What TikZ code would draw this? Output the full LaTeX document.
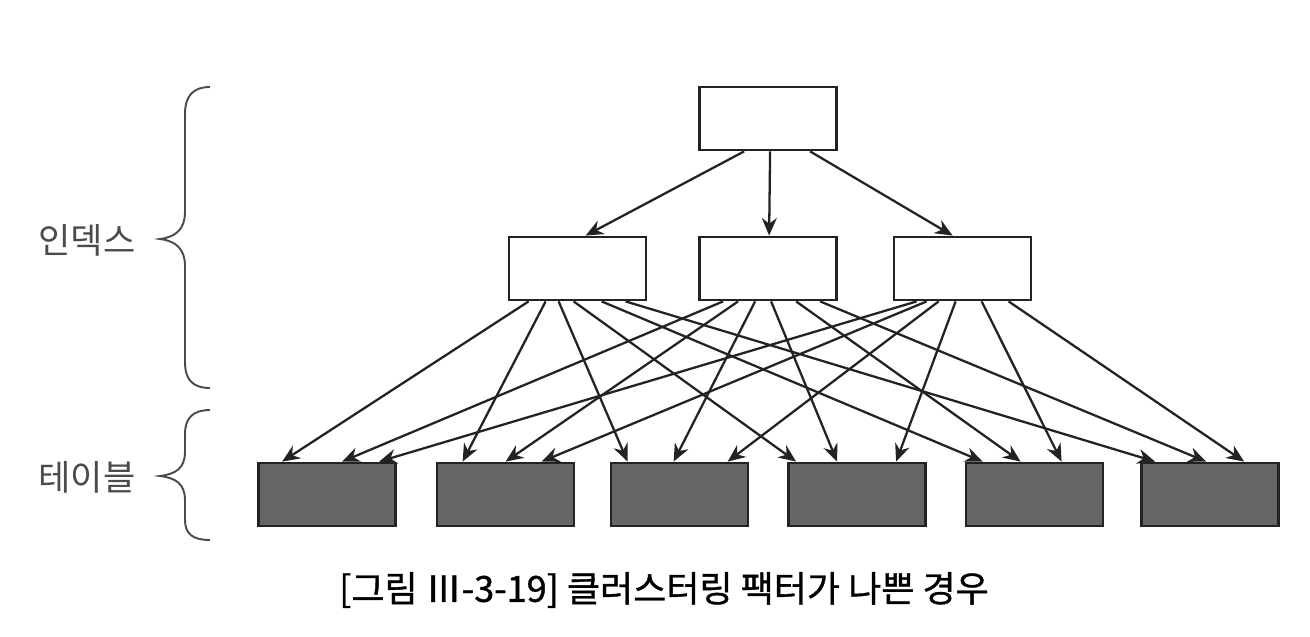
\documentclass[tikz,border=0pt]{standalone}
\usepackage{fontspec}
\newfontfamily\krfont{Noto Sans CJK KR}
\newfontfamily\krcapfont{Noto Sans CJK KR}[FakeBold=1]
\usetikzlibrary{arrows.meta,calc}
\definecolor{tablegray}{RGB}{102,102,102}
\definecolor{linegray}{RGB}{35,35,35}
\definecolor{labelgray}{RGB}{75,75,75}

\begin{document}
\begin{tikzpicture}
        [x=0.02cm,y=-0.02cm,
         every node/.style={rectangle,draw=linegray,line width=1.6pt,minimum width=2.74cm,minimum height=1.26cm,inner sep=0pt},
         idxbox/.style={fill=white},
         tblbox/.style={fill=tablegray},
         arr/.style={-{Stealth[length=10pt,width=8.5pt]},line width=1.3pt,draw=linegray},
         brc/.style={line width=1.1pt,draw=labelgray},
         lbl/.style={draw=none,minimum width=0pt,minimum height=0pt,font=\krfont\fontsize{20}{21}\selectfont,text=labelgray}]
        \useasboundingbox (0,0) rectangle (1310,636);
        %Index
        \node[idxbox] (R)  at (768,118.5)   {};
        \node[idxbox] (I1) at (577.5,268.5) {};
        \node[idxbox] (I2) at (768,268.5)   {};
        \node[idxbox] (I3) at (962.5,268.5) {};
        %Table
        \node[tblbox] (T1) at (327,494.5)    {};
        \node[tblbox] (T2) at (505.5,494.5)  {};
        \node[tblbox] (T3) at (679.5,494.5)  {};
        \node[tblbox] (T4) at (857,494.5)    {};
        \node[tblbox] (T5) at (1034.5,494.5) {};
        \node[tblbox] (T6) at (1210,494.5)   {};

        \draw[arr] ($(R.south west)+(46,0)$)  -- ($(I1.north west)+(78,0)$);
        \draw[arr] ($(R.south west)+(72,0)$)  -- ($(I2.north west)+(71,0)$);
        \draw[arr] ($(R.south west)+(112,0)$) -- ($(I3.north west)+(60,0)$);

        \foreach \src/\a/\dst/\b in {I1/21/T1/25, I1/38/T2/27, I1/51/T3/18, I1/66/T4/9, I1/94/T5/18, I1/118/T6/15,
                                     I2/25/T1/85, I2/40/T2/70, I2/57/T3/64, I2/73/T4/50, I2/98/T5/56, I2/122/T6/66,
                                     I3/24/T1/122, I3/34/T2/106, I3/46/T3/118, I3/63/T4/109, I3/89/T5/97, I3/116/T6/104}
          \draw[arr] ($(\src.south west)+(\a,0)$) -- ($(\dst.north west)+(\b,0)$);

        %Braces
        \draw[brc] (210,87) .. controls (193,87) and (185,96) .. (185,114) -- (185,212)
          .. controls (185,229) and (176,237) .. (160,239)
          .. controls (176,241) and (185,249) .. (185,266) -- (185,362)
          .. controls (185,380) and (193,388) .. (210,388);
        \draw[brc] (210,410) .. controls (193,410) and (185,418) .. (185,434) -- (185,452)
          .. controls (185,468) and (176,474) .. (160,476)
          .. controls (176,478) and (185,484) .. (185,500) -- (185,520)
          .. controls (185,534) and (193,540) .. (210,540);

        \node[lbl] (L1) at (87,240) {인덱스};
        \node[lbl] (L2) at (87,477) {테이블};
        \node[lbl,font=\krcapfont\fontsize{20.5}{21}\selectfont,text=black] (cap) at (664,590) {[그림 Ⅲ-3-19] 클러스터링 팩터가 나쁜 경우};
    \end{tikzpicture}
\end{document}
